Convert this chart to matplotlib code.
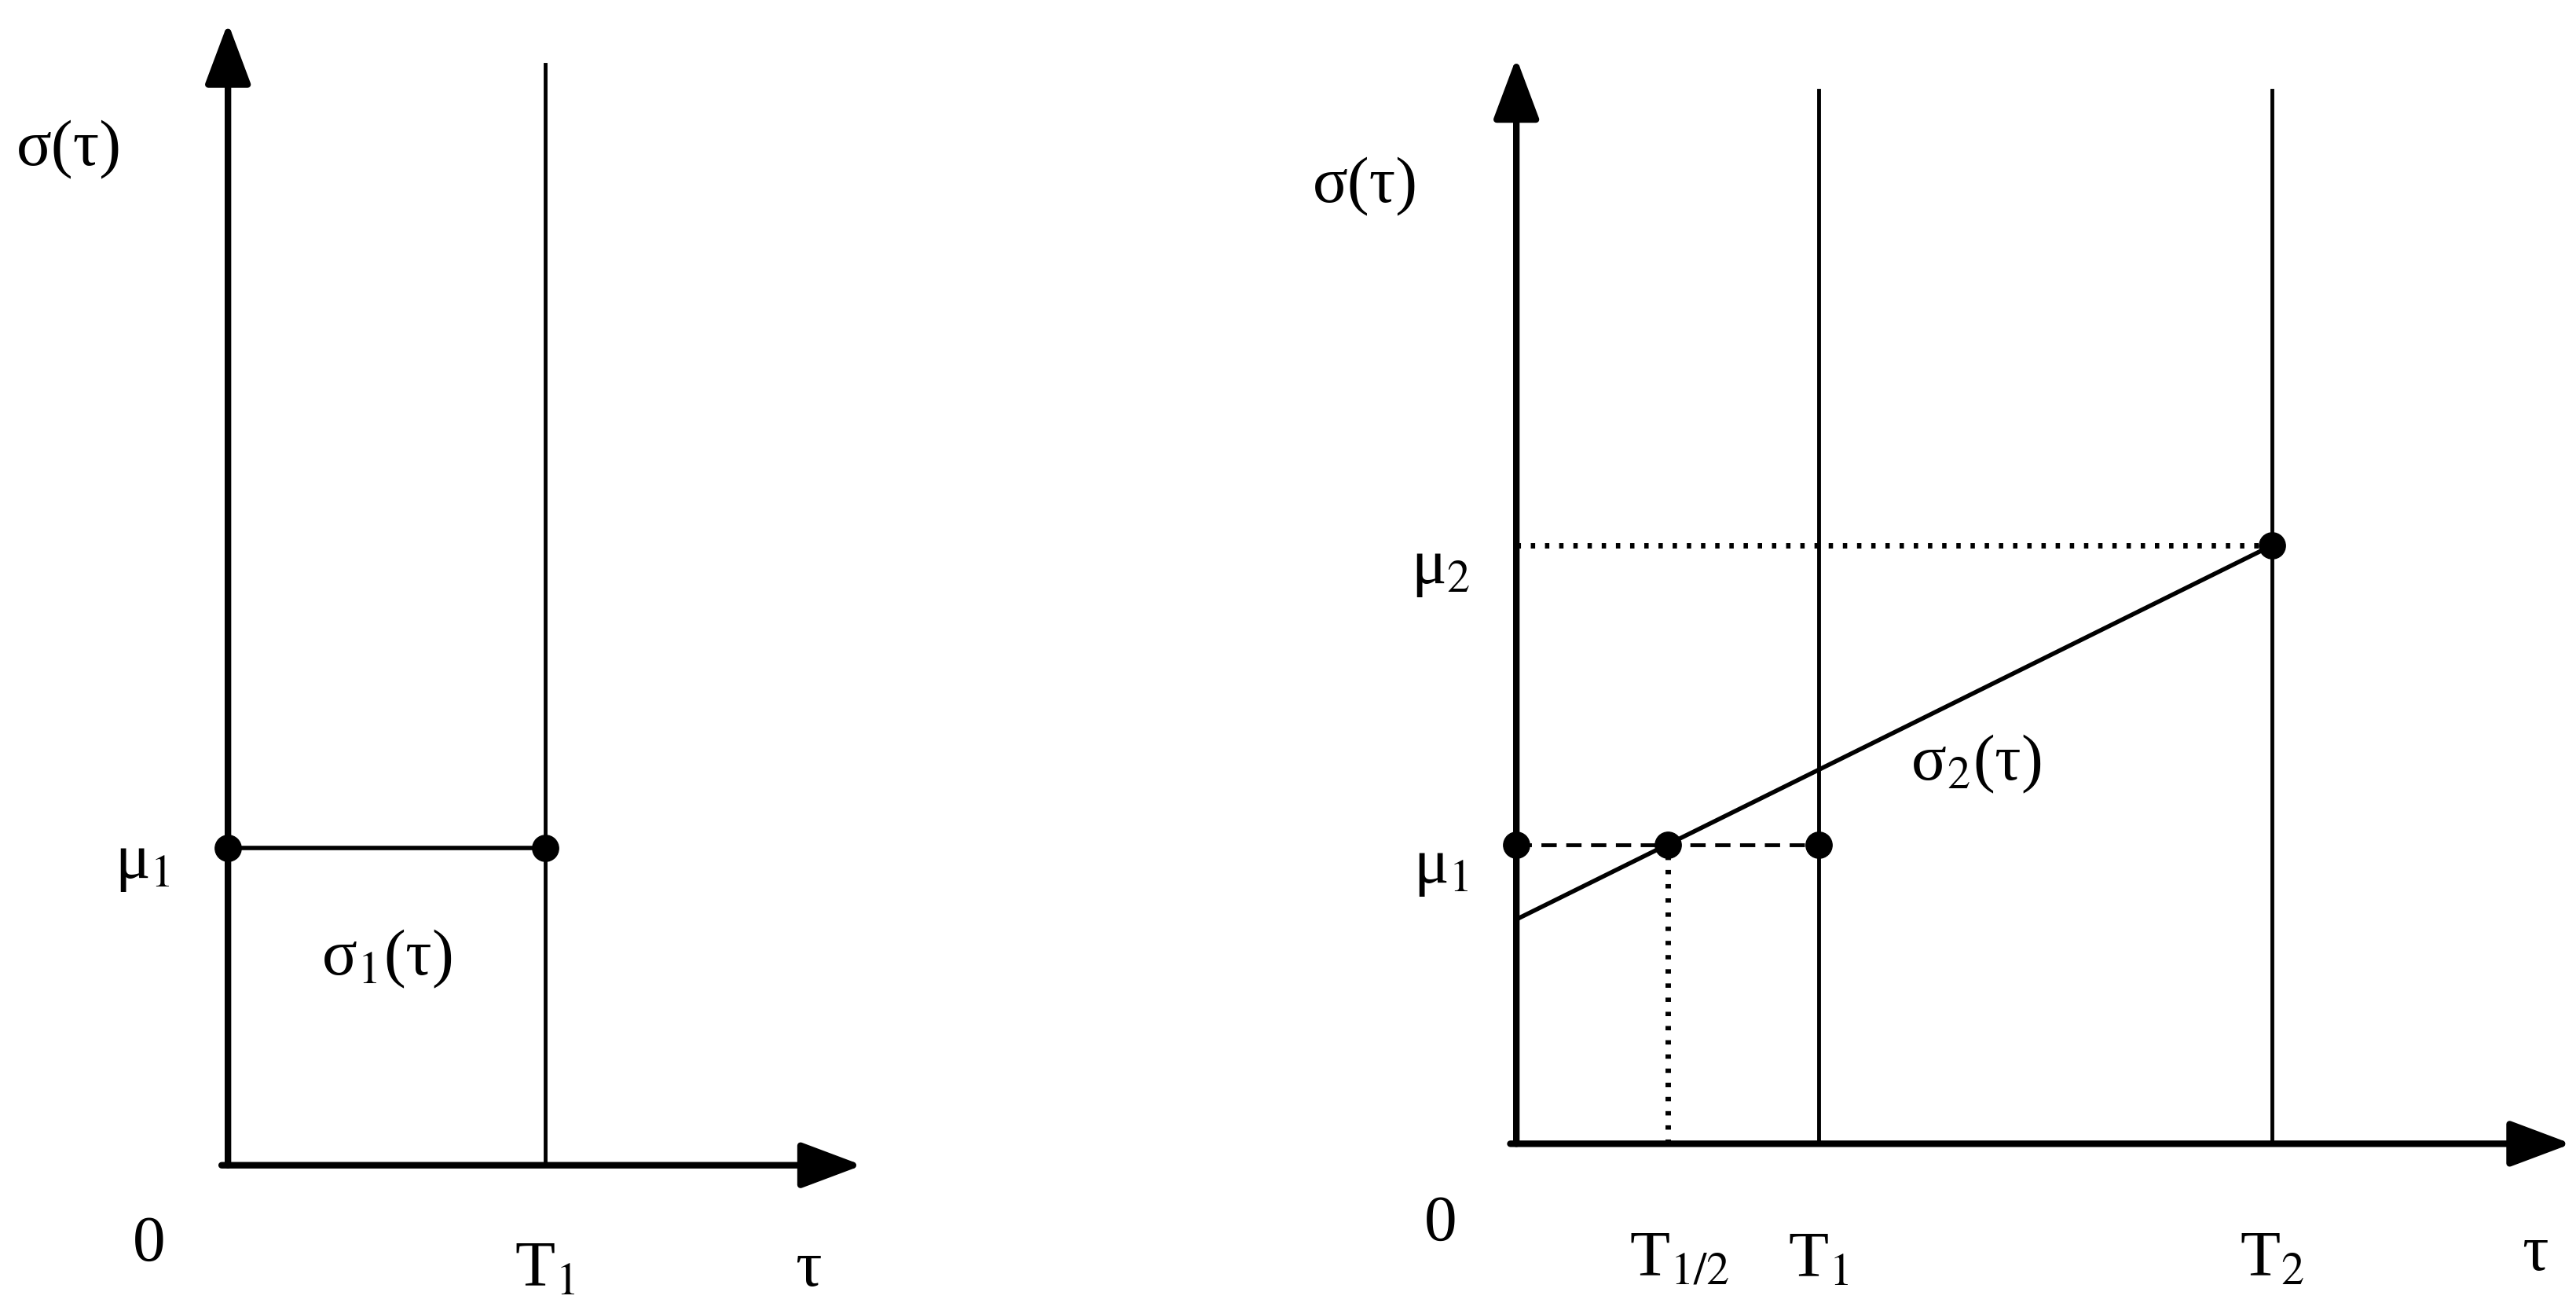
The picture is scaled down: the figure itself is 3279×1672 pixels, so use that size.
import matplotlib
matplotlib.use("Agg")
import matplotlib.pyplot as plt

plt.rcParams['font.family'] = ['Liberation Serif', 'DejaVu Serif']
plt.rcParams['mathtext.fontset'] = 'stix'

# Data (model units)
left_T1 = 1.0
left_mu1 = 1.0
right_T_half = 0.5
right_T1 = 1.0
right_T2 = 2.5
right_mu1 = 1.0
right_mu2 = 2.0
sigma2_tau = [0.0, 2.5]
sigma2_val = [0.75, 2.0]

W, H = 1560, 795
fig = plt.figure(figsize=(32.8, 16.72), dpi=100)

def make_ax(x0, y0, sx, sy):
    ax = fig.add_axes([0, 0, 1, 1])
    ax.set_xlim(-x0 / sx, (W - x0) / sx)
    ax.set_ylim(-(H - y0) / sy, y0 / sy)
    ax.axis('off')
    ax.patch.set_alpha(0)
    return ax

FS = 60
AXLW = 6
THIN = 3.5
MS = 24
DOT = (0, (0.8, 1.8))
arrow = dict(arrowstyle='-|>,head_length=1.2,head_width=0.45', lw=AXLW, color='black',
             mutation_scale=40, shrinkA=0, shrinkB=0)

# Left panel
a = make_ax(138, 705, 192, 192)
a.annotate('', xy=(0, 3.6), xytext=(0, 0), arrowprops=arrow)
a.annotate('', xy=(2.0, 0), xytext=(-0.02, 0), arrowprops=arrow)
a.plot([left_T1, left_T1], [0, 3.47], color='black', lw=THIN)
a.plot([0, left_T1], [left_mu1, left_mu1], color='black', lw=THIN + 0.5)
a.plot([0, left_T1], [left_mu1, left_mu1], 'o', color='black', ms=MS)
a.text(-0.5, 3.2, 'σ(τ)', fontsize=FS, ha='center', va='center')
a.text(-0.27, 0.95, r'μ$_1$', fontsize=FS, ha='center', va='center')
a.text(0.5, 0.65, r'σ$_1$(τ)', fontsize=FS, ha='center', va='center')
a.text(-0.25, -0.25, '0', fontsize=FS, ha='center', va='center')
a.text(left_T1, -0.33, r'T$_1$', fontsize=FS, ha='center', va='center')
a.text(1.83, -0.33, 'τ', fontsize=FS, ha='center', va='center')

# Right panel
b = make_ax(918, 692, 183, 181)
b.annotate('', xy=(0, 3.63), xytext=(0, 0), arrowprops=arrow)
b.annotate('', xy=(3.49, 0), xytext=(-0.02, 0), arrowprops=arrow)
for t in (right_T1, right_T2):
    b.plot([t, t], [0, 3.52], color='black', lw=THIN)
b.plot([0, right_T2], [right_mu2, right_mu2], color='black', lw=5, ls=DOT)
b.plot([0, right_T1], [right_mu1, right_mu1], color='black', lw=THIN, ls=(0, (4, 2.5)))
b.plot([right_T_half, right_T_half], [0, right_mu1], color='black', lw=5, ls=DOT)
b.plot(sigma2_tau, sigma2_val, color='black', lw=THIN + 0.5)
b.plot([0, right_T_half, right_T1, right_T2], [right_mu1, right_mu1, right_mu1, right_mu2],
       'o', color='black', ms=MS)
b.text(-0.5, 3.2, 'σ(τ)', fontsize=FS, ha='center', va='center')
b.text(-0.25, 1.92, r'μ$_2$', fontsize=FS, ha='center', va='center')
b.text(-0.25, 0.92, r'μ$_1$', fontsize=FS, ha='center', va='center')
b.text(1.52, 1.27, r'σ$_2$(τ)', fontsize=FS, ha='center', va='center')
b.text(-0.25, -0.27, '0', fontsize=FS, ha='center', va='center')
b.text(right_T_half + 0.04, -0.39, r'T$_{1/2}$', fontsize=FS, ha='center', va='center')
b.text(right_T1, -0.39, r'T$_1$', fontsize=FS, ha='center', va='center')
b.text(right_T2, -0.39, r'T$_2$', fontsize=FS, ha='center', va='center')
b.text(3.37, -0.37, 'τ', fontsize=FS, ha='center', va='center')

fig.savefig('out.png', dpi=100, facecolor='white')
